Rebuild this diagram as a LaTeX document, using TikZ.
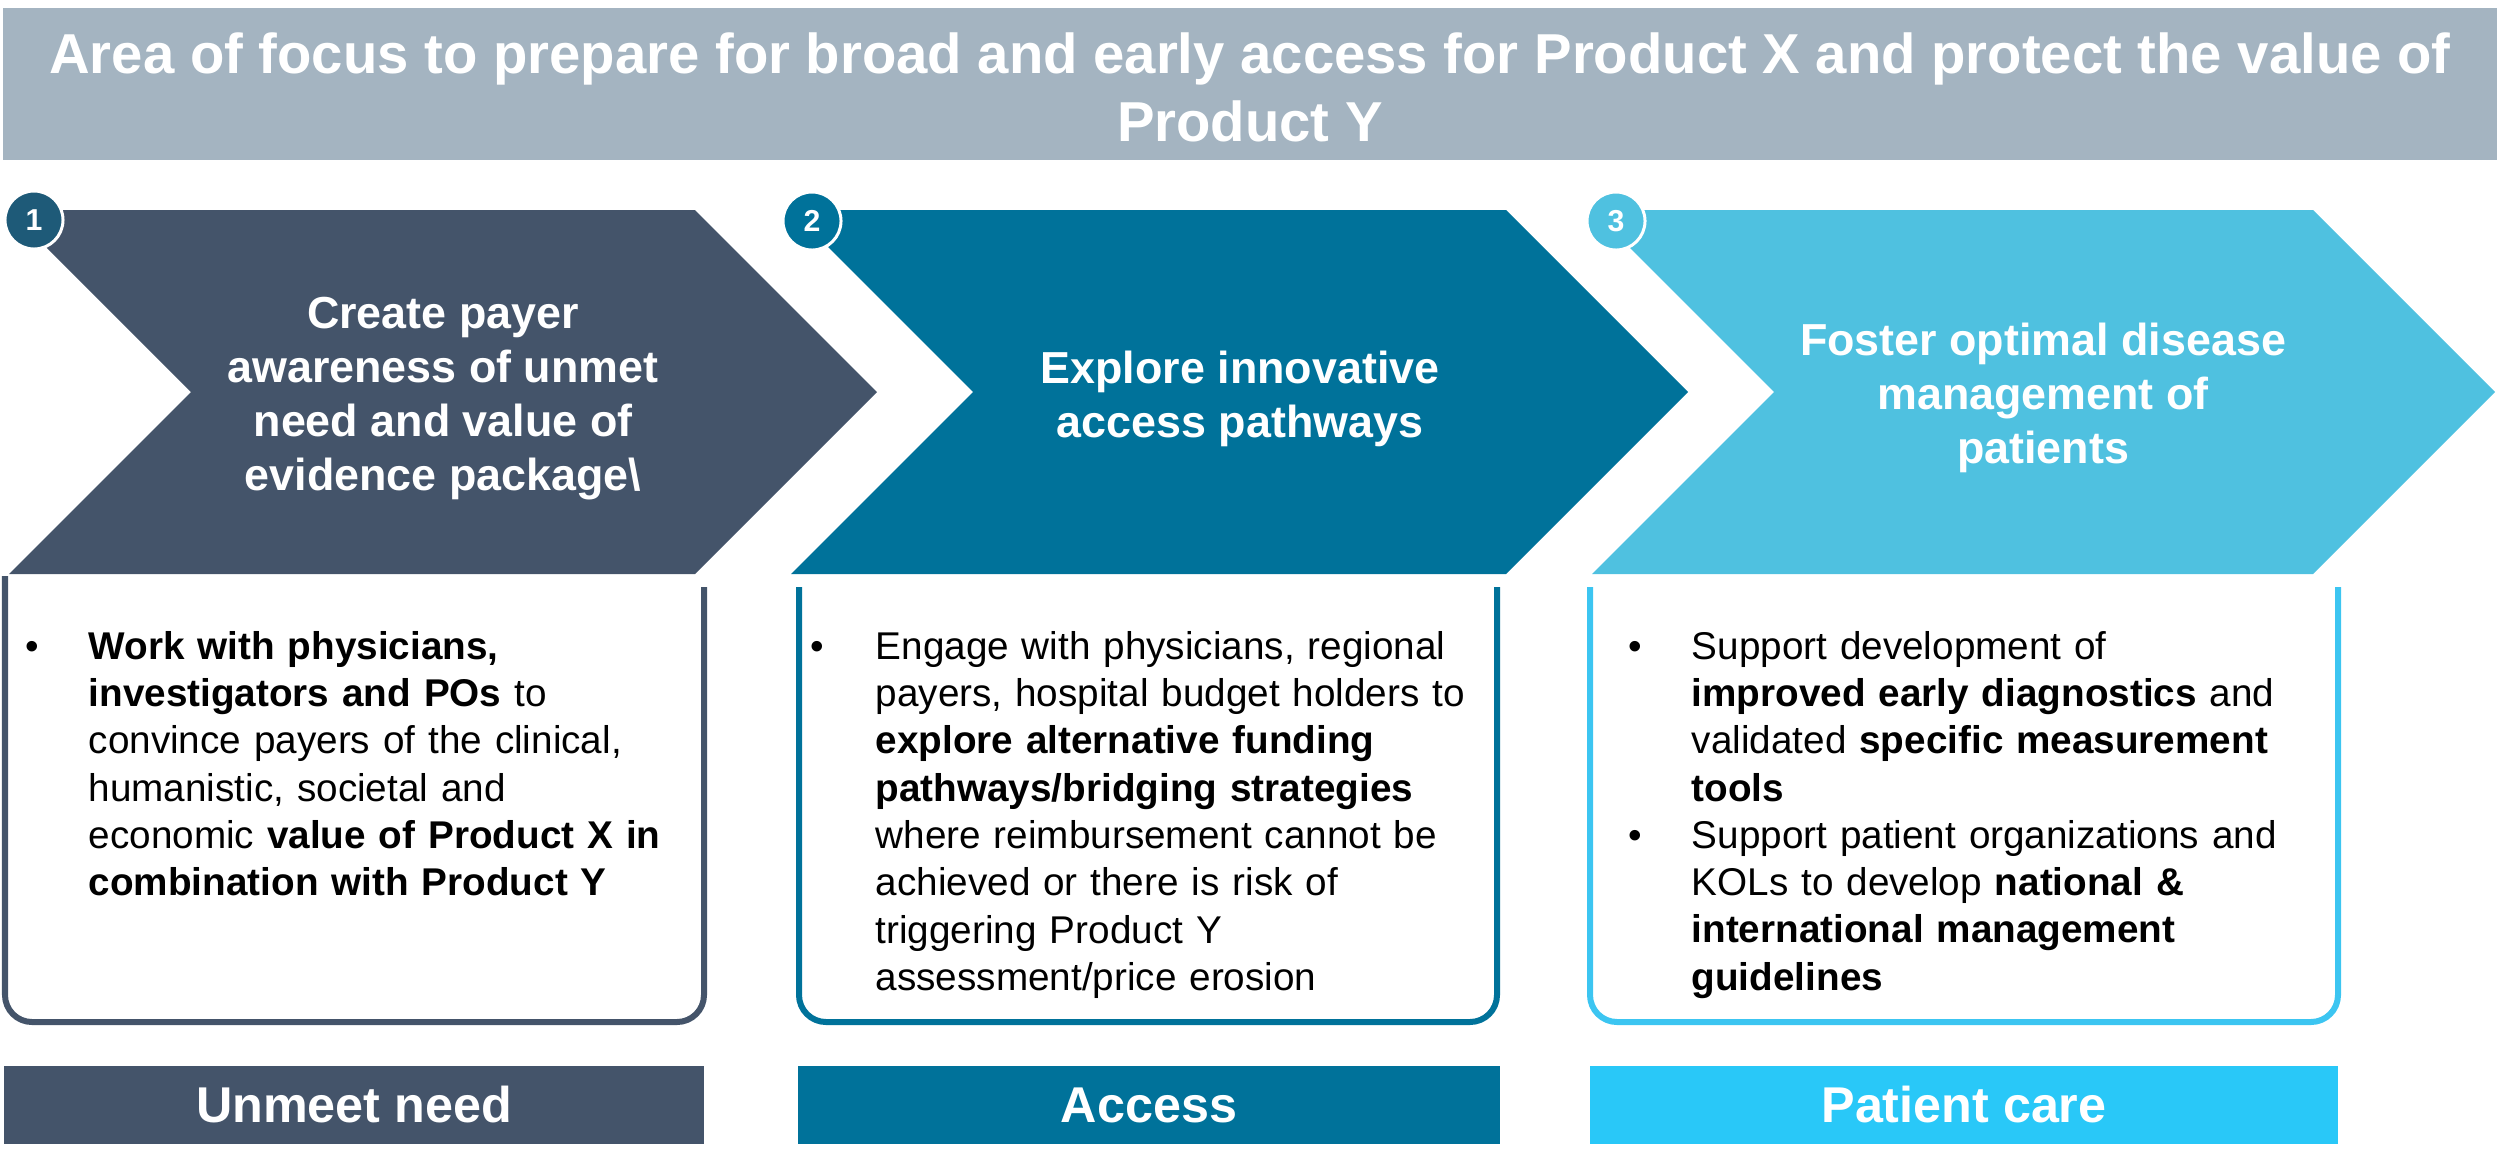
\documentclass[tikz,border=0pt]{standalone}
\usepackage{fontspec}
\setmainfont{Liberation Sans}
\usepackage{xcolor}
\usetikzlibrary{positioning}

\definecolor{titlegray}{HTML}{A4B4C1}
\definecolor{slate}{HTML}{44546A}
\definecolor{deepteal}{HTML}{00729A}
\definecolor{skyblue}{HTML}{4FC1E0}
\definecolor{navyteal}{HTML}{1E5A78}
\definecolor{cyanline}{HTML}{3CC5F1}
\definecolor{cyanbar}{HTML}{29C8F8}

\begin{document}
\begin{tikzpicture}[x=0.01cm, y=-0.01cm,
    chevtext/.style={text=white, align=center, font=\fontsize{12.75}{15.34}\selectfont\bfseries},
    bodytext/.style={anchor=base west, text width=6.4cm, align=left, inner sep=0pt, font=\fontsize{11}{13.46}\selectfont},
    bulletmark/.style={anchor=base, inner sep=0pt, font=\fontsize{11}{13.46}\selectfont},
    numcirc/.style={circle, draw=white, line width=0.03cm, minimum size=0.58cm, inner sep=0pt, text=white, font=\fontsize{8.6}{10}\selectfont\bfseries},
    frame/.style={line width=0.06cm, rounded corners=0.27cm},
    tagbar/.style={minimum width=7cm, minimum height=0.78cm, inner sep=0pt, text=white, font=\fontsize{14.3}{17}\selectfont\bfseries}]

    \useasboundingbox (0,0) rectangle (2500,1166);

    % Title banner
    \fill[titlegray] (3,8) rectangle (2497,160);
    \node[text=white, align=center, font=\fontsize{16}{19.3}\selectfont\bfseries] (title) at (1250,87)
        {Area of focus to prepare for broad and early access for Product X and protect the value of\\Product Y};

    % Chevrons
    \fill[slate] (9,210) -- (695,210) -- (877,392) -- (695,574) -- (9,574) -- (191,392) -- cycle;
    \fill[deepteal] (791,210) -- (1506,210) -- (1688,392) -- (1506,574) -- (791,574) -- (973,392) -- cycle;
    \fill[skyblue] (1592,210) -- (2313,210) -- (2495,392) -- (2313,574) -- (1592,574) -- (1774,392) -- cycle;

    \node[chevtext] (aware) at (443,399) {Create payer\\awareness of unmet\\need and value of\\evidence package\textbackslash};
    \node[chevtext] (explore) at (1240,399) {Explore innovative\\access pathways};
    \node[chevtext] (foster) at (2043,398) {Foster optimal disease\\management of\\patients};

    % Step numbers
    \node[numcirc, fill=navyteal] (num1) at (34,220) {1};
    \node[numcirc, fill=deepteal] (num2) at (812,221) {2};
    \node[numcirc, fill=skyblue] (num3) at (1616,221) {3};

    % Open frames below the chevrons
    \draw[frame, slate] (5,576) -- (5,1022) -- (704,1022) -- (704,587);
    \draw[frame, deepteal] (799,587) -- (799,1022) -- (1497,1022) -- (1497,587);
    \draw[frame, cyanline] (1590,587) -- (1590,1022) -- (2338,1022) -- (2338,587);

    % Column 1
    \node[bulletmark] (dot1) at (32,659) {•};
    \node[bodytext] (item1) at (88,659) {\textbf{Work with physicians,}\\
        \textbf{investigators and POs} to\\
        convince payers of the clinical,\\
        humanistic, societal and\\
        economic \textbf{value of Product X in}\\
        \textbf{combination with Product Y}};

    % Column 2
    \node[bulletmark] (dot2) at (817,659) {•};
    \node[bodytext] (item2) at (875,659) {Engage with physicians, regional\\
        payers, hospital budget holders to\\
        \textbf{explore alternative funding}\\
        \textbf{pathways/bridging strategies}\\
        where reimbursement cannot be\\
        achieved or there is risk of\\
        triggering Product Y\\
        assessment/price erosion};

    % Column 3
    \node[bulletmark] (dot3) at (1635,659) {•};
    \node[bodytext] (item3) at (1691,659) {Support development of\\
        \textbf{improved early diagnostics} and\\
        validated \textbf{specific measurement}\\
        \textbf{tools}};
    \node[bulletmark] (dot4) at (1635,848) {•};
    \node[bodytext] (item4) at (1691,848) {Support patient organizations and\\
        KOLs to develop \textbf{national \&}\\
        \textbf{international management}\\
        \textbf{guidelines}};

    % Theme bars
    \node[tagbar, fill=slate] (needbar) at (354,1105) {Unmeet need};
    \node[tagbar, fill=deepteal, minimum width=7.02cm] (accessbar) at (1149,1105) {Access};
    \node[tagbar, fill=cyanbar, minimum width=7.48cm] (carebar) at (1964,1105) {Patient care};
\end{tikzpicture}
\end{document}
